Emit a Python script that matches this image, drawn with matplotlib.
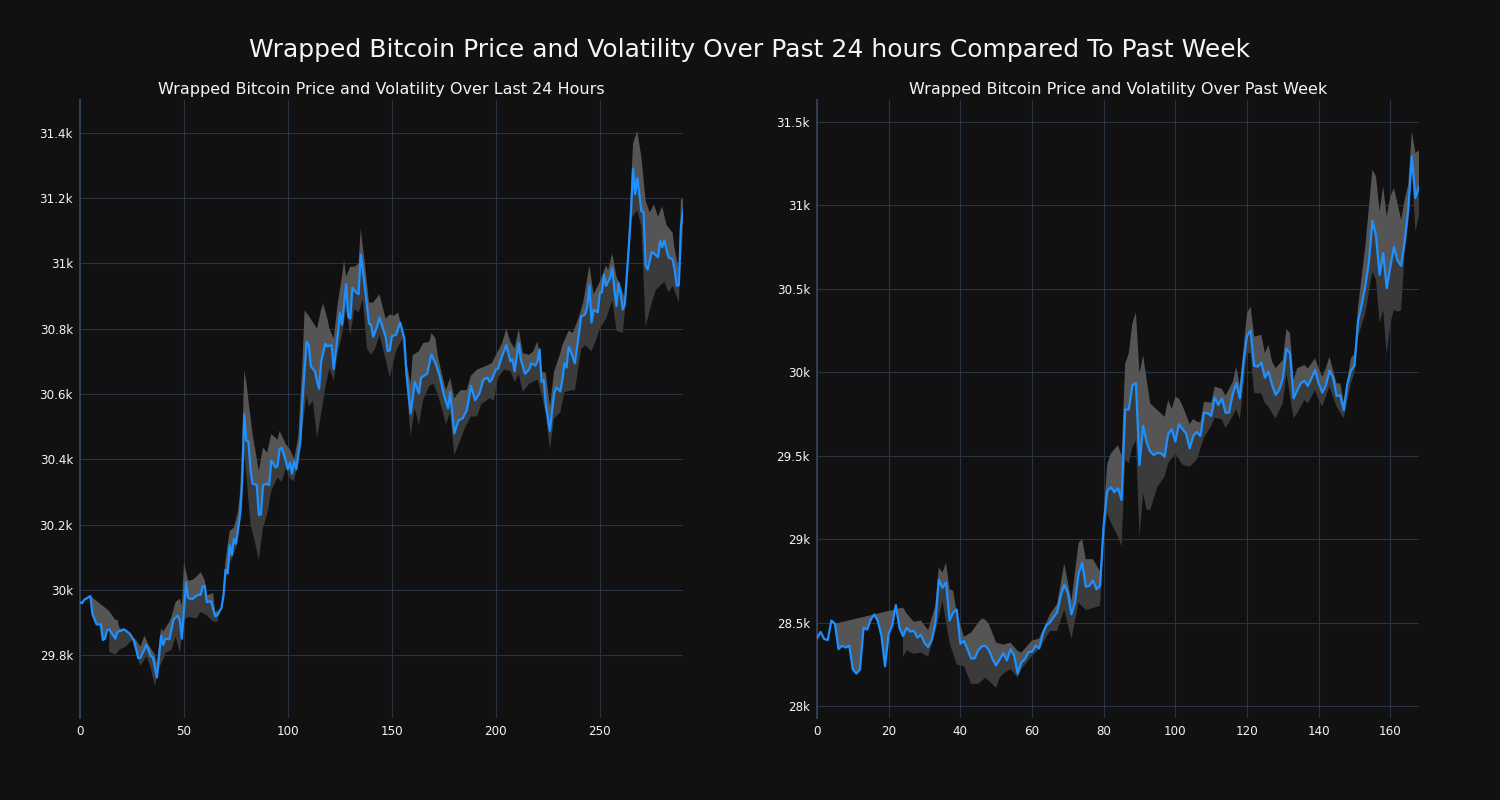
import numpy as np
import matplotlib.pyplot as plt
from matplotlib.ticker import FuncFormatter, MultipleLocator

# Precio y volatilidad - últimas 24 horas (índice de muestra, precio)
day_x = [0, 1, 2, 4, 5, 6, 8, 10, 11, 12, 13, 14, 17, 18, 20, 21, 22, 24, 26, 28,
         29, 32, 34, 35, 37, 39, 40, 41, 43, 45, 47, 48, 49, 51, 52, 54, 55, 57, 58, 59,
         60, 61, 63, 65, 66, 68, 69, 70, 71, 72, 73, 74, 75, 77, 78, 79, 80, 81, 82, 83,
         85, 86, 87, 88, 90, 91, 92, 94, 95, 96, 97, 99, 100, 101, 102, 103, 104, 106, 107, 109,
         110, 111, 113, 114, 115, 116, 118, 119, 121, 122, 124, 125, 126, 128, 129, 130, 131, 133, 134, 135,
         136, 139, 140, 141, 143, 144, 147, 148, 149, 150, 152, 154, 156, 157, 159, 161, 163, 164, 167, 169,
         170, 171, 173, 175, 177, 178, 180, 182, 184, 186, 187, 188, 190, 192, 194, 196, 197, 198, 200, 201,
         203, 205, 207, 208, 209, 211, 212, 214, 216, 217, 219, 220, 221, 222, 223, 224, 226, 228, 229, 231,
         232, 233, 234, 235, 236, 238, 240, 241, 243, 244, 245, 246, 247, 249, 250, 251, 252, 253, 255, 256,
         257, 258, 259, 260, 261, 262, 264, 265, 266, 267, 268, 269, 270, 271, 272, 273, 275, 276, 278, 279,
         280, 281, 283, 285, 286, 287, 288, 289, 290]
day_price = [29962, 29959, 29969, 29977, 29981, 29925, 29894, 29894, 29846, 29850, 29875, 29879, 29850, 29871, 29875, 29879, 29875, 29865, 29844, 29791,
             29791, 29831, 29796, 29794, 29731, 29859, 29831, 29850, 29848, 29909, 29921, 29906, 29850, 30022, 29975, 29971, 29977, 29985, 29984, 30010,
             30012, 29962, 29965, 29919, 29922, 29944, 29981, 30062, 30050, 30137, 30106, 30156, 30141, 30231, 30331, 30537, 30456, 30454, 30369, 30325,
             30321, 30229, 30231, 30321, 30325, 30321, 30396, 30375, 30379, 30431, 30435, 30394, 30369, 30390, 30356, 30394, 30369, 30456, 30581, 30760,
             30750, 30685, 30669, 30640, 30616, 30700, 30754, 30746, 30750, 30677, 30781, 30850, 30812, 30937, 30837, 30831, 30925, 30910, 30906, 31027,
             30981, 30816, 30812, 30775, 30809, 30834, 30775, 30731, 30734, 30777, 30781, 30819, 30769, 30662, 30540, 30637, 30601, 30650, 30662, 30722,
             30706, 30694, 30655, 30597, 30556, 30606, 30479, 30519, 30525, 30550, 30584, 30625, 30581, 30600, 30644, 30650, 30637, 30644, 30675, 30677,
             30716, 30750, 30700, 30706, 30669, 30756, 30706, 30662, 30675, 30694, 30687, 30700, 30737, 30637, 30644, 30569, 30487, 30601, 30620, 30608,
             30644, 30694, 30681, 30744, 30731, 30694, 30787, 30837, 30844, 30869, 30934, 30819, 30859, 30850, 30909, 30912, 30965, 30931, 30956, 30986,
             30919, 30869, 30940, 30906, 30859, 30875, 31056, 31156, 31291, 31212, 31262, 31212, 31160, 31158, 30994, 30981, 31035, 31031, 31019, 31069,
             31050, 31071, 31019, 31012, 30981, 30931, 30934, 31112, 31160]

day_up_x = [14, 17, 18, 19, 22, 25, 27, 29, 31, 33, 36, 37, 39, 40, 43, 44, 46, 48, 49, 50,
            52, 54, 56, 58, 60, 61, 64, 65, 68, 69, 70, 72, 74, 76, 77, 78, 79, 80, 81, 83,
            86, 88, 90, 92, 95, 96, 99, 101, 103, 105, 107, 108, 110, 112, 114, 116, 117, 119, 120, 122,
            124, 126, 127, 128, 130, 132, 134, 135, 137, 139, 141, 144, 147, 149, 151, 153, 155, 156, 159, 160,
            163, 165, 168, 169, 171, 172, 174, 176, 178, 180, 183, 186, 188, 191, 193, 195, 198, 200, 203, 205,
            207, 209, 211, 213, 216, 218, 220, 222, 224, 226, 228, 231, 232, 235, 237, 240, 242, 245, 247, 250,
            253, 254, 256, 258, 260, 262, 264, 266, 268, 270, 272, 274, 276, 278, 280, 282, 285, 286, 288, 289,
            290]
day_up = [29935, 29907, 29909, 29882, 29877, 29857, 29846, 29826, 29859, 29831, 29801, 29776, 29882, 29872, 29902, 29917, 29963, 29973, 29950, 30084,
          30028, 30030, 30040, 30054, 30030, 29983, 29990, 29932, 29940, 30008, 30090, 30180, 30190, 30240, 30300, 30450, 30672, 30636, 30580, 30477,
          30364, 30436, 30420, 30477, 30460, 30487, 30446, 30430, 30400, 30470, 30700, 30856, 30840, 30820, 30800, 30860, 30877, 30830, 30800, 30770,
          30880, 30960, 31010, 30960, 30990, 30990, 31000, 31106, 31000, 30880, 30880, 30906, 30831, 30844, 30840, 30850, 30794, 30731, 30631, 30719,
          30731, 30756, 30760, 30787, 30770, 30719, 30662, 30612, 30650, 30587, 30612, 30612, 30656, 30675, 30680, 30685, 30694, 30719, 30756, 30800,
          30760, 30740, 30800, 30725, 30720, 30731, 30762, 30669, 30665, 30562, 30669, 30725, 30750, 30794, 30787, 30837, 30881, 30994, 30906, 30944,
          30994, 30980, 31031, 30960, 30931, 30894, 31106, 31369, 31406, 31325, 31194, 31156, 31181, 31144, 31175, 31119, 31094, 31044, 30981, 31194,
          31200]

day_lo_x = [14, 17, 19, 22, 25, 28, 29, 32, 34, 36, 38, 40, 41, 44, 46, 48, 50, 52, 56, 58,
            61, 64, 66, 68, 70, 72, 74, 76, 78, 79, 80, 82, 84, 86, 88, 90, 92, 95, 97, 99,
            101, 103, 105, 107, 109, 110, 112, 114, 116, 118, 120, 122, 124, 126, 128, 130, 132, 134, 136, 138,
            140, 142, 144, 147, 149, 150, 152, 155, 157, 159, 161, 163, 165, 168, 170, 172, 174, 176, 178, 180,
            182, 185, 188, 191, 193, 197, 199, 201, 204, 207, 209, 211, 213, 216, 220, 222, 224, 226, 228, 231,
            233, 237, 238, 241, 243, 246, 248, 250, 253, 256, 258, 261, 263, 265, 268, 270, 272, 275, 277, 281,
            283, 285, 288, 289, 290]
day_lo = [29810, 29801, 29816, 29826, 29846, 29786, 29766, 29796, 29761, 29705, 29761, 29786, 29806, 29816, 29857, 29806, 29907, 29917, 29912, 29932,
          29922, 29902, 29902, 29947, 30030, 30080, 30110, 30150, 30260, 30415, 30350, 30200, 30150, 30092, 30190, 30230, 30303, 30344, 30330, 30374,
          30340, 30333, 30400, 30500, 30600, 30560, 30579, 30467, 30540, 30620, 30680, 30640, 30730, 30780, 30860, 30780, 30860, 30850, 30890, 30740,
          30720, 30740, 30781, 30706, 30650, 30680, 30731, 30769, 30631, 30471, 30556, 30506, 30581, 30625, 30631, 30600, 30556, 30506, 30544, 30412,
          30444, 30494, 30531, 30531, 30569, 30587, 30580, 30650, 30675, 30670, 30637, 30660, 30606, 30631, 30644, 30600, 30537, 30431, 30525, 30544,
          30606, 30612, 30610, 30737, 30750, 30731, 30762, 30800, 30831, 30887, 30794, 30787, 30912, 31137, 31162, 31112, 30806, 30881, 30919, 30944,
          30912, 30931, 30881, 31012, 31100]

# Precio y volatilidad - última semana (índice horario, precio)
week_x = list(range(0, 169))
week_price = [28407, 28444, 28402, 28395, 28512, 28493, 28341, 28361, 28350, 28361, 28219, 28194, 28219, 28468, 28458, 28517, 28549, 28507, 28419, 28238,
              28434, 28483, 28605, 28468, 28419, 28468, 28446, 28451, 28410, 28427, 28378, 28353, 28395, 28493, 28757, 28708, 28740, 28512, 28560, 28578,
              28373, 28390, 28340, 28285, 28285, 28334, 28358, 28361, 28334, 28280, 28243, 28280, 28317, 28273, 28341, 28304, 28194, 28260, 28280, 28324,
              28324, 28361, 28345, 28434, 28483, 28500, 28532, 28561, 28659, 28727, 28678, 28549, 28622, 28793, 28859, 28715, 28720, 28752, 28700, 28720,
              29080, 29290, 29311, 29281, 29305, 29235, 29777, 29777, 29922, 29936,
              29444, 29679, 29580, 29524, 29504, 29518, 29514, 29494, 29629, 29659, 29584, 29689, 29659, 29633, 29544, 29618, 29643, 29618, 29758, 29754,
              29738, 29850, 29804, 29844, 29758, 29758, 29868, 29934, 29844, 30054, 30218, 30250, 30038, 30034, 30058, 29968, 30004, 29924, 29864, 29894,
              29964, 30140, 30114, 29844, 29890, 29934, 29948, 29918, 29964, 30014, 29934, 29878, 29920, 30010, 29970, 29858, 29862, 29774, 29930, 30010,
              30040, 30308, 30404, 30514, 30658, 30908, 30818, 30584, 30714, 30504, 30634, 30750, 30670, 30638, 30784, 30974, 31294, 31044, 31114]

week_up_x = [24, 25, 27, 29, 31, 33, 34, 35, 36, 37, 38, 39, 41, 43, 45, 46, 47, 48, 50, 52,
             54, 56, 57, 60, 62, 65, 67, 69, 71, 73, 74, 75, 77, 79, 80, 81, 82, 84, 85, 86,
             87, 88, 89, 90, 91, 93, 95, 97, 98, 99, 100, 101, 102, 104, 105, 106, 107, 108, 110, 111,
             113, 114, 116, 117, 118, 120, 121, 122, 124, 125, 126, 127, 128, 130, 131, 132, 133, 134, 136, 137,
             139, 140, 141, 142, 143, 145, 146, 147, 149, 150, 151, 153, 155, 156, 157, 158, 159, 160, 161, 162,
             163, 164, 165, 166, 167, 168]
week_up = [28590, 28555, 28505, 28512, 28455, 28600, 28830, 28800, 28859, 28700, 28690, 28560, 28415, 28440, 28500, 28524, 28517, 28490, 28380, 28368,
           28380, 28330, 28320, 28392, 28404, 28550, 28611, 28854, 28630, 28977, 29001, 28880, 28880, 28807, 29155, 29450, 29514, 29563, 29500, 30052,
           30112, 30291, 30360, 29992, 30102, 29813, 29773, 29733, 29833, 29780, 29853, 29843, 29800, 29690, 29720, 29704, 29700, 29824, 29818, 29914,
           29900, 29860, 29940, 30034, 29920, 30354, 30394, 30214, 30224, 30114, 30164, 30064, 30024, 30074, 30260, 30234, 29954, 30024, 30044, 30024,
           30084, 30024, 29974, 30024, 30094, 29934, 29934, 29824, 30084, 30114, 30394, 30754, 31214, 31174, 30964, 31114, 30934, 31054, 31104, 31014,
           30914, 31034, 31124, 31444, 31314, 31330]

week_lo_x = [24, 25, 27, 29, 31, 33, 35, 37, 39, 41, 43, 45, 47, 50, 51, 52, 54, 56, 57, 60,
             62, 65, 67, 69, 71, 73, 75, 77, 79, 80, 81, 82, 84, 85, 86, 87, 88, 89, 90, 91,
             92, 93, 95, 97, 98, 100, 102, 104, 106, 108, 110, 111, 113, 114, 116, 117, 118, 120, 121, 122,
             124, 125, 126, 127, 128, 130, 131, 133, 134, 136, 137, 139, 140, 141, 143, 145, 147, 149, 150, 151,
             153, 155, 156, 157, 158, 159, 160, 161, 162, 163, 164, 165, 166, 167, 168]
week_lo = [28292, 28333, 28313, 28320, 28295, 28440, 28630, 28378, 28248, 28240, 28133, 28133, 28170, 28109, 28170, 28195, 28220, 28170, 28220, 28300,
           28340, 28450, 28450, 28576, 28402, 28620, 28575, 28587, 28600, 29016, 29155, 29100, 29016, 28956, 29474, 29454, 29550, 29590, 29016, 29275,
           29175, 29175, 29315, 29374, 29454, 29514, 29445, 29435, 29475, 29610, 29678, 29728, 29718, 29664, 29738, 29778, 29718, 30114, 30114, 29874,
           29874, 29814, 29794, 29754, 29724, 29814, 29994, 29724, 29754, 29834, 29814, 29894, 29834, 29794, 29914, 29794, 29724, 29934, 30000, 30214,
           30354, 30604, 30554, 30294, 30374, 30104, 30294, 30374, 30364, 30370, 30714, 30894, 31214, 30844, 30940]

BG = "#111111"
GRID = "#283442"
TXT = "#f2f5fa"
BLUE = "#1e90ff"

plt.rcParams["font.family"] = ["DejaVu Sans"]
fig = plt.figure(figsize=(15, 8), dpi=100, facecolor=BG)


def draw_panel(ax, px, py, ux, uy, lx, ly, wedge_from, title, xlim, ylim, xstep, ystep):
    px = np.array(px)
    py = np.array(py)
    ax.set_facecolor(BG)
    # banda superior (incluye la cuña que genera el relleno desde el inicio)
    keep = px >= wedge_from
    ax.fill(np.concatenate([ux, px[keep][::-1]]), np.concatenate([uy, py[keep][::-1]]),
            color="#555555", lw=0, zorder=2)
    keep = px >= lx[0]
    ax.fill(np.concatenate([lx, px[keep][::-1]]), np.concatenate([ly, py[keep][::-1]]),
            color="#3b3b3b", lw=0, zorder=2)
    ax.plot(px, py, color=BLUE, lw=1.6, zorder=3)
    ax.set_xlim(*xlim)
    ax.set_ylim(*ylim)
    ax.xaxis.set_major_locator(MultipleLocator(xstep))
    ax.yaxis.set_major_locator(MultipleLocator(ystep))
    ax.yaxis.set_major_formatter(FuncFormatter(lambda v, p: f"{v / 1000:g}k"))
    ax.grid(True, color=GRID, lw=0.8, zorder=0)
    ax.set_axisbelow(True)
    for s in ["top", "right", "bottom"]:
        ax.spines[s].set_visible(False)
    ax.spines["left"].set_color("#334155")
    ax.spines["left"].set_linewidth(1.4)
    ax.tick_params(colors=TXT, labelsize=8.6, length=0, pad=5)
    ax.set_title(title, color=TXT, fontsize=11.5, pad=4)


ax1 = fig.add_axes([80 / 1500, 82 / 800, 603 / 1500, 618 / 800])
draw_panel(ax1, day_x, day_price, day_up_x, day_up, day_lo_x, day_lo, 5,
           "Wrapped Bitcoin Price and Volatility Over Last 24 Hours",
           (0, 290), (29607, 31501), 50, 200)

ax2 = fig.add_axes([817 / 1500, 82 / 800, 602 / 1500, 618 / 800])
draw_panel(ax2, week_x, week_price, week_up_x, week_up, week_lo_x, week_lo, 5,
           "Wrapped Bitcoin Price and Volatility Over Past Week",
           (0, 168), (27928, 31632), 20, 500)

fig.suptitle("Wrapped Bitcoin Price and Volatility Over Past 24 hours Compared To Past Week",
             color=TXT, fontsize=18, y=1 - 50 / 800, va="center")

fig.savefig("out.png", dpi=100, facecolor=BG)
